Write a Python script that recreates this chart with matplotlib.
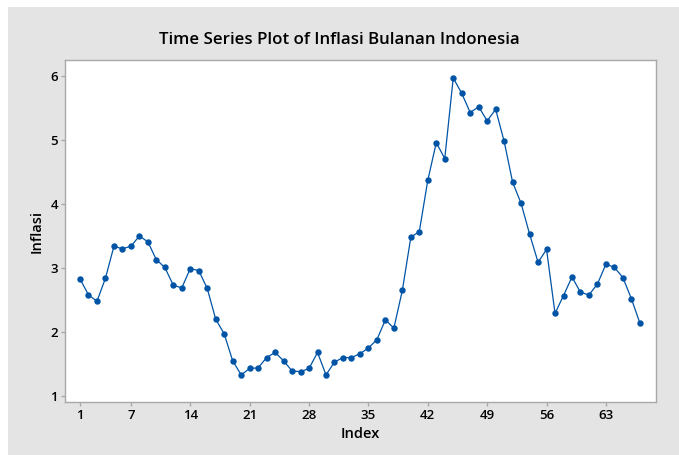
import matplotlib.pyplot as plt
from matplotlib.patches import Rectangle

# Inflasi bulanan Indonesia, index 1..67
index = list(range(1, 68))
inflasi = [
    2.83, 2.58, 2.48, 2.84, 3.34, 3.30, 3.34, 3.50, 3.41, 3.13,
    3.01, 2.73, 2.69, 2.99, 2.96, 2.68, 2.20, 1.97, 1.55, 1.33,
    1.43, 1.44, 1.60, 1.68, 1.55, 1.39, 1.38, 1.43, 1.68, 1.33,
    1.53, 1.60, 1.60, 1.66, 1.75, 1.88, 2.19, 2.06, 2.65, 3.48,
    3.57, 4.37, 4.96, 4.71, 5.97, 5.73, 5.43, 5.52, 5.30, 5.48,
    4.98, 4.34, 4.01, 3.53, 3.09, 3.29, 2.29, 2.57, 2.86, 2.62,
    2.58, 2.75, 3.06, 3.01, 2.85, 2.52, 2.14,
]
x_ticks = [1, 7, 14, 21, 28, 35, 42, 49, 56, 63]
y_ticks = [1, 2, 3, 4, 5, 6]

plt.rcParams['font.family'] = ['Open Sans', 'DejaVu Sans']

fig = plt.figure(figsize=(6.79, 4.55), dpi=100)
fig.patch.set_facecolor('white')
# fond gris style Minitab
fig.patches.append(Rectangle((8 / 679, 0), 1, 1 - 7 / 455, transform=fig.transFigure,
                             facecolor='#e4e4e4', edgecolor='none', zorder=-10))

ax = fig.add_axes([0.0957, 0.1165, 0.9661 - 0.0957, 0.868 - 0.1165])
ax.set_facecolor('white')
ax.plot(index, inflasi, color='#0054a6', linewidth=0.9, marker='o',
        markersize=4.6, markeredgewidth=0)

ax.set_xlim(-0.77, 68.9)
ax.set_ylim(0.906, 6.25)
ax.set_xticks(x_ticks)
ax.set_yticks(y_ticks)

for s in ax.spines.values():
    s.set_color('#a8a8a8')
    s.set_linewidth(1)
ax.tick_params(length=3, width=1, color='#a8a8a8', labelsize=9.5, pad=2)
for lab in ax.get_xticklabels() + ax.get_yticklabels():
    lab.set_fontweight('semibold')

ax.set_xlabel('Index', fontsize=10.5, fontweight='semibold', labelpad=4)
ax.set_ylabel('Inflasi', fontsize=10.5, fontweight='semibold', labelpad=5)
fig.text(0.5, 1 - 40 / 455, 'Time Series Plot of Inflasi Bulanan Indonesia',
         ha='center', va='center', fontsize=12.2, fontweight='semibold')

fig.savefig('out.png', dpi=100)
